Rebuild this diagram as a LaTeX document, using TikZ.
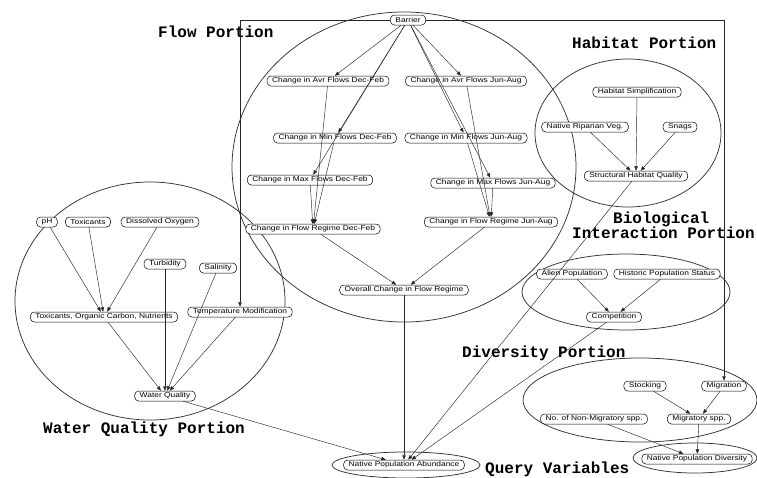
\documentclass[tikz,border=0pt]{standalone}
\usepackage{fontspec}
\setmainfont{Liberation Sans}
\newfontfamily\varfont[FakeStretch=1.2]{Liberation Sans}
\newfontfamily\portionfont{Liberation Mono}
\usetikzlibrary{arrows.meta}

\begin{document}
\begin{tikzpicture}[x=1pt,y=-1pt,
  var/.style={draw, line width=0.5pt, fill=white, rounded corners=4pt,
    inner xsep=5pt, inner ysep=1pt, minimum height=10pt,
    font=\varfont\fontsize{7}{8}\selectfont},
  link/.style={-{Triangle[length=4.5pt,width=3.5pt]}, line width=0.45pt, draw=black!85},
  region/.style={draw=black!80, line width=0.75pt},
  portion/.style={font=\portionfont\bfseries\fontsize{16}{17}\selectfont, inner sep=0pt}
]
\useasboundingbox (0,0) rectangle (757,477);

% ---------- portion outlines ----------
\draw[region] (404,167) ellipse [x radius=172, y radius=155];
\draw[region] (150,301) ellipse [x radius=135, y radius=119];
\draw[region] (628,133) ellipse [x radius=93, y radius=74];
\draw[region] (626,292) ellipse [x radius=104, y radius=38];
\draw[region] (640,400) ellipse [x radius=117, y radius=42];
\draw[region] (406,465) ellipse [x radius=74, y radius=13];
\draw[region] (695,458) ellipse [x radius=62, y radius=15];

% ---------- portion titles ----------
\node[portion, anchor=base west] (tflow) at (158,37) {Flow Portion};
\node[portion, anchor=base west] (thab) at (572,48) {Habitat Portion};
\node[portion, anchor=base west] (tbio1) at (613,223) {Biological};
\node[portion, anchor=base west] (tbio2) at (572,238) {Interaction Portion};
\node[portion, anchor=base west] (twq) at (43,433) {Water Quality Portion};
\node[portion, anchor=base west] (tdiv) at (462,357) {Diversity Portion};
\node[portion, anchor=base west] (tq) at (485,473) {Query Variables};

% ---------- flow portion ----------
\node[var] (bar) at (408,20) {Barrier};
\node[var] (avrD) at (328,81) {Change in Avr Flows Dec-Feb};
\node[var] (avrJ) at (466,81) {Change in Avr Flows Jun-Aug};
\node[var] (minD) at (335,138) {Change in Min Flows Dec-Feb};
\node[var] (minJ) at (466,138) {Change in Min Flows Jun-Aug};
\node[var] (maxD) at (310,180) {Change in Max Flows Dec-Feb};
\node[var] (maxJ) at (493,183) {Change in Max Flows Jun-Aug};
\node[var] (frD) at (313,229) {Change in Flow Regime Dec-Feb};
\node[var] (frJ) at (491,222) {Change in Flow Regime Jun-Aug};
\node[var] (ovr) at (404,290) {Overall Change in Flow Regime};

% ---------- water quality portion ----------
\node[var] (ph) at (47,222) {pH};
\node[var] (tox) at (88,222) {Toxicants};
\node[var] (dox) at (160,222) {Dissolved Oxygen};
\node[var] (turb) at (165,264) {Turbidity};
\node[var] (sal) at (218,268) {Salinity};
\node[var] (tocn) at (104,317) {Toxicants, Organic Carbon, Nutrients};
\node[var] (temp) at (240,312) {Temperature Modification};
\node[var] (wq) at (165,396) {Water Quality};

% ---------- habitat portion ----------
\node[var] (hsimp) at (637,92) {Habitat Simplification};
\node[var] (nrv) at (585,127) {Native Riparian Veg.};
\node[var] (snag) at (680,127) {Snags};
\node[var] (shq) at (636,176) {Structural Habitat Quality};

% ---------- biological interaction portion ----------
\node[var] (alien) at (572,274) {Alien Population};
\node[var] (hist) at (667,274) {Historic Population Status};
\node[var] (comp) at (614,317) {Competition};

% ---------- diversity portion ----------
\node[var] (stock) at (645,386) {Stocking};
\node[var] (migr) at (724,386) {Migration};
\node[var] (nonmig) at (594,419) {No. of Non-Migratory spp.};
\node[var] (migspp) at (699,419) {Migratory spp.};

% ---------- query variables ----------
\node[var] (npa) at (404,465) {Native Population Abundance};
\node[var] (npd) at (697,459) {Native Population Diversity};

% ---------- links ----------
\foreach \t in {avrD,minD,maxD,avrJ,minJ,maxJ}
  \draw[link] (bar) -- (\t);
\foreach \s in {avrD,minD,maxD}
  \draw[link] (\s) -- (frD);
\foreach \s in {avrJ,minJ,maxJ}
  \draw[link] (\s) -- (frJ);
\draw[link] (frD) -- (ovr);
\draw[link] (frJ) -- (ovr);
\draw[link] (ovr) -- (npa);

\draw[link] (bar) -| (temp);
\draw[link] (bar) -| (migr);

\foreach \s in {ph,tox,dox}
  \draw[link] (\s) -- (tocn);
\foreach \s in {tocn,turb,sal,temp}
  \draw[link] (\s) -- (wq);
\draw[link] (wq) -- (npa);

\foreach \s in {hsimp,nrv,snag}
  \draw[link] (\s) -- (shq);
\draw[link] (shq) -- (npa);

\draw[link] (alien) -- (comp);
\draw[link] (hist) -- (comp);
\draw[link] (comp) -- (npa);

\draw[link] (stock) -- (migspp);
\draw[link] (migr) -- (migspp);
\draw[link] (migspp) -- (npd);
\draw[link] (nonmig) -- (npd);
\end{tikzpicture}
\end{document}
